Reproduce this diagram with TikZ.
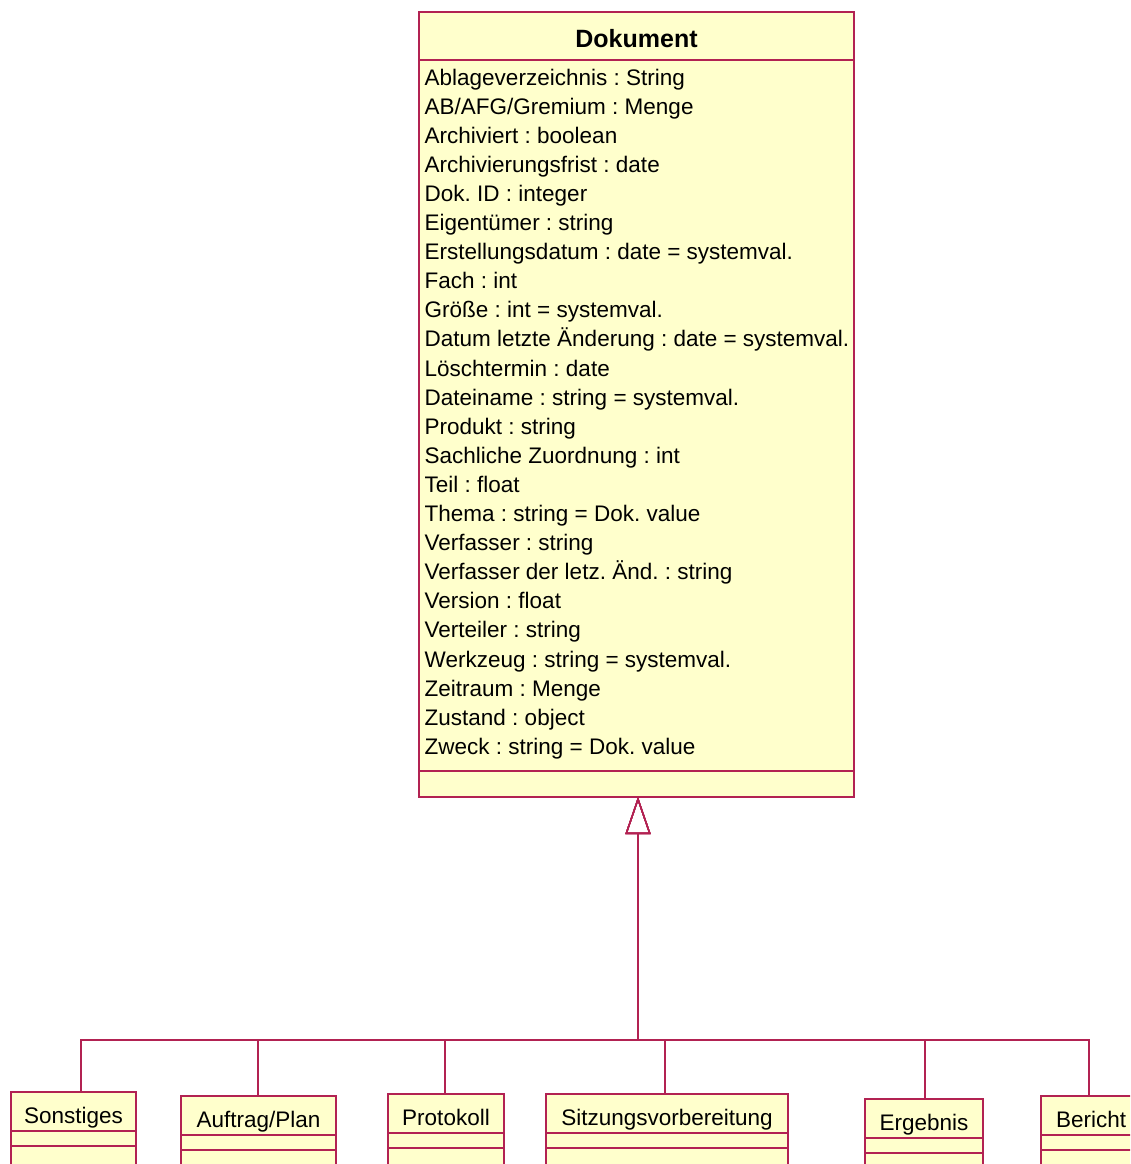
\documentclass[tikz,border=0pt]{standalone}
\usepackage{fontspec}
\setmainfont{Liberation Sans}
\usetikzlibrary{arrows.meta, positioning}
\definecolor{umlred}{RGB}{178,34,82}
\definecolor{umlfill}{RGB}{255,255,204}
\frenchspacing

\begin{document}
\begin{tikzpicture}[x=1pt, y=-1pt, line width=1.4pt, draw=umlred]
    \tikzstyle{class}=[rectangle, draw=umlred, fill=umlfill, inner sep=0pt, outer sep=0pt]
    \tikzstyle{classname}=[inner sep=0pt, anchor=base, font=\fontsize{22.5}{27}\selectfont]
    \tikzstyle{attr}=[inner sep=0pt, anchor=base west, font=\fontsize{22.5}{27}\selectfont]
    \tikzstyle{sep}=[draw=umlred]
    \tikzstyle{gen}=[draw=umlred, -{Triangle[open, length=37pt, width=25pt]}]

    \clip (0,0) rectangle (1130,1164);

    % The base class
    \node[class, anchor=north west, minimum width=435pt, minimum height=785pt] (dok) at (419,12) {};
    \node[classname, font=\fontsize{25}{30}\selectfont\bfseries] (dok-title) at ([yshift=-36pt]dok.north) {Dokument};
    \draw[sep] ([yshift=-48pt]dok.north west) -- ([yshift=-48pt]dok.north east);
    \draw[sep] ([yshift=26pt]dok.south west) -- ([yshift=26pt]dok.south east);

    % Attributes, one per line
    \foreach \attr [count=\i] in {Ablageverzeichnis : String, AB/AFG/Gremium : Menge,
        Archiviert : boolean, Archivierungsfrist : date, Dok. ID : integer,
        Eigentümer : string, Erstellungsdatum : date = systemval., Fach : int,
        Größe : int = systemval., Datum letzte Änderung : date = systemval.,
        Löschtermin : date, Dateiname : string = systemval., Produkt : string,
        Sachliche Zuordnung : int, Teil : float, Thema : string = Dok. value,
        Verfasser : string, Verfasser der letz. Änd. : string, Version : float,
        Verteiler : string, Werkzeug : string = systemval., Zeitraum : Menge,
        Zustand : object, Zweck : string = Dok. value}
        \node[attr] (attr-\i) at ([xshift=5pt, yshift={-73pt-29.1pt*(\i-1)}]dok.north west) {\attr};

    % Where the tree meets the base class
    \coordinate (tip) at ([xshift=1.5pt]dok.south);
    \coordinate (bus) at (tip |- 0,1040);

    % The subclasses and their links up to the base class
    \foreach \name/\label/\x/\top/\w/\off in {sonst/Sonstiges/11/1092/125/7.5,
            auftrag/Auftrag\slash Plan/181/1096/155/-0.5,
            protokoll/Protokoll/388/1094/116/-1,
            sitzung/Sitzungsvorbereitung/546/1094/242/-2,
            ergebnis/Ergebnis/865/1099/118/1,
            bericht/Bericht/1041/1096/100/-2} {
        \node[class, anchor=north west, minimum width=\w pt, minimum height=100pt] (\name) at (\x,\top) {};
        \node[classname] (\name-title) at ([yshift=-31pt]\name.north) {\label};
        \draw[sep] ([yshift=-39pt]\name.north west) -- ([yshift=-39pt]\name.north east);
        \draw[sep] ([yshift=-54pt]\name.north west) -- ([yshift=-54pt]\name.north east);
        \draw[gen] ([xshift=\off pt]\name.north) |- (bus) -- (tip);
    }
\end{tikzpicture}
\end{document}
